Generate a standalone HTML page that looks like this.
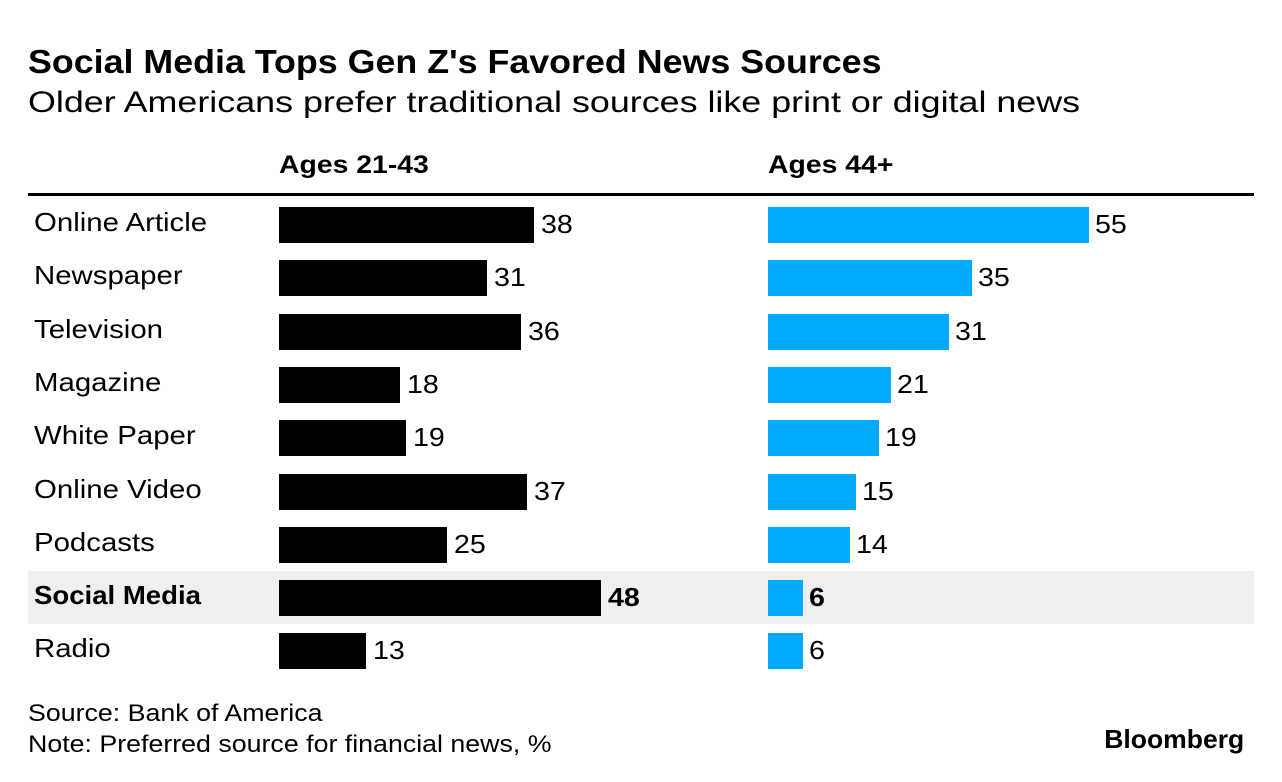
<!DOCTYPE html>
<html><head><meta charset="utf-8"><style>
body{margin:0;width:1282px;height:782px;background:#fff;font-family:"Liberation Sans",Arial,sans-serif;position:relative;overflow:hidden;color:#000}
.a{position:absolute;white-space:nowrap;transform-origin:left center}
</style></head><body>
<div class="a" style="left:28px;top:43px;font-size:33px;font-weight:bold;transform:scaleX(1.085)">Social Media Tops Gen Z's Favored News Sources</div>
<div class="a" style="left:28px;top:86px;font-size:30px;transform:scaleX(1.195)">Older Americans prefer traditional sources like print or digital news</div>
<div class="a" style="left:279px;top:151px;font-size:25px;font-weight:bold;transform:scaleX(1.135)">Ages 21-43</div>
<div class="a" style="left:768px;top:151px;font-size:25px;font-weight:bold;transform:scaleX(1.135)">Ages 44+</div>
<div class="a" style="left:28px;top:193px;width:1226px;height:3px;background:#000"></div>
<div id="rows"></div>
<div class="a" style="left:28px;top:700px;font-size:24px;transform:scaleX(1.115)">Source: Bank of America</div>
<div class="a" style="left:28px;top:731px;font-size:24px;transform:scaleX(1.115)">Note: Preferred source for financial news, %</div>
<div class="a" style="right:38px;top:724px;font-size:26px;font-weight:bold;transform-origin:right center;transform:scaleX(1.02)">Bloomberg</div>
<script>
const categories=["Online Article","Newspaper","Television","Magazine","White Paper","Online Video","Podcasts","Social Media","Radio"];
const young=[38,31,36,18,19,37,25,48,13];
const old=[55,35,31,21,19,15,14,6,6];
const highlight="Social Media";
const root=document.getElementById('rows');
const rowY=i=>225+i*53.3;
const xL=v=>v*6.71, xR=v=>v*5.84;
function mk(style,text){const d=document.createElement('div');d.className='a';d.style.cssText=style;if(text!==undefined)d.textContent=text;root.appendChild(d);return d;}
categories.forEach((c,i)=>{
  const cy=rowY(i), hi=c===highlight, fw=hi?'bold':'normal';
  if(hi){const h=mk(`left:28px;top:${cy-27}px;width:1226px;height:53px;background:#efefef`);
    
    }
  const l=mk(`left:34px;top:${cy-17}px;font-size:26px;font-weight:${fw};line-height:28px;transform:scaleX(${hi?1.06:1.13})`,c);
  
  
  const b1=mk(`left:279px;top:${cy-18}px;width:${xL(young[i])}px;height:36px;background:#000`);
  
  
  const v1=mk(`left:${279+xL(young[i])+7}px;top:${cy-15}px;font-size:26px;font-weight:${fw};line-height:28px;transform:scaleX(1.1)`,young[i]);
  
  
  const b2=mk(`left:768px;top:${cy-18}px;width:${xR(old[i])}px;height:36px;background:#00aaff`);
  
  
  const v2=mk(`left:${768+xR(old[i])+6}px;top:${cy-15}px;font-size:26px;font-weight:${fw};line-height:28px;transform:scaleX(1.1)`,old[i]);
  
  
});
</script>
</body></html>
